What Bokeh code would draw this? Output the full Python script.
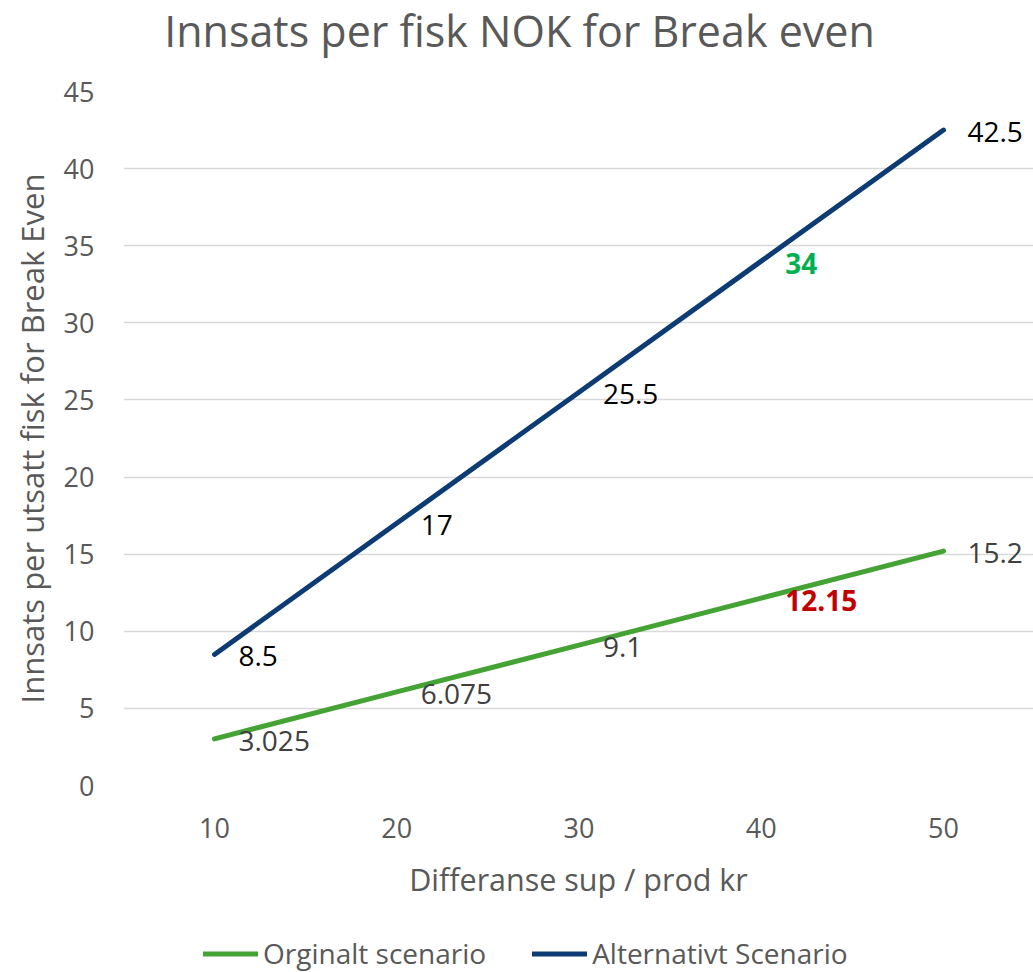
from bokeh.plotting import figure
from bokeh.layouts import column
from bokeh.models import Range1d, FixedTicker, ColumnDataSource, Legend, LegendItem, Label
from bokeh.core.properties import value
from bokeh.embed import file_html
from bokeh.resources import INLINE

# ---- data ----
x_values = [10, 20, 30, 40, 50]
orig_values = [3.025, 6.075, 9.1, 12.15, 15.2]
alt_values = [8.5, 17, 25.5, 34, 42.5]
orig_labels = ["3.025", "6.075", "9.1", "12.15", "15.2"]
alt_labels = ["8.5", "17", "25.5", "34", "42.5"]
orig_label_colors = ["#404040", "#404040", "#404040", "#C00000", "#404040"]
orig_label_styles = ["normal", "normal", "normal", "bold", "normal"]
alt_label_colors = ["#000000", "#000000", "#000000", "#00B050", "#000000"]
alt_label_styles = ["normal", "normal", "normal", "bold", "normal"]
y_ticks = [0, 5, 10, 15, 20, 25, 30, 35, 40, 45]
series_names = ["Orginalt scenario", "Alternativt Scenario"]
chart_title = "Innsats per fisk NOK for Break even"

FONT = "Open Sans"
GREY = "#595959"
GREEN = "#45A335"
BLUE = "#0C3C73"

W = 1033
TOP_H = 67
LEG_H = 44
MAIN_H = 972 - TOP_H - LEG_H

# ---- title strip ----
tf = figure(width=W, height=TOP_H, output_backend="svg", toolbar_location=None, title=None,
            x_range=Range1d(0, W - 123), y_range=Range1d(0, TOP_H),
            x_axis_type=None, y_axis_type=None,
            min_border_left=123, min_border_right=0, min_border_top=0, min_border_bottom=0)
tf.outline_line_color = None
tf.grid.visible = False
tf.add_layout(Label(x=396, y=TOP_H, text=chart_title, text_align="center", text_baseline="top",
                    text_font=FONT, text_font_size="43px", text_color=GREY))

# ---- main chart ----
p = figure(width=W, height=MAIN_H, output_backend="svg", toolbar_location=None, title=None,
           x_range=Range1d(5.007, 54.94), y_range=Range1d(0, 45),
           min_border_left=123, min_border_right=0, min_border_top=24, min_border_bottom=143)
p.outline_line_color = None
p.background_fill_color = "white"
p.border_fill_color = "white"

src_o = ColumnDataSource(dict(x=x_values, y=orig_values, t=orig_labels, c=orig_label_colors, s=orig_label_styles))
src_a = ColumnDataSource(dict(x=x_values, y=alt_values, t=alt_labels, c=alt_label_colors, s=alt_label_styles))

p.line("x", "y", source=src_o, line_color=GREEN, line_width=5, line_cap="round", line_join="round")
p.line("x", "y", source=src_a, line_color=BLUE, line_width=5, line_cap="round", line_join="round")

for src in (src_o, src_a):
    p.text("x", "y", text="t", source=src, text_color="c", text_font_style="s",
           text_font=value(FONT), text_font_size="28px", text_align="left",
           text_baseline="middle", x_offset=24, y_offset=2)

p.xgrid.grid_line_color = None
p.ygrid.grid_line_color = "#D9D9D9"
p.ygrid.grid_line_width = 1.5

p.yaxis.ticker = FixedTicker(ticks=y_ticks)
p.xaxis.ticker = FixedTicker(ticks=x_values)
for ax in (p.xaxis[0], p.yaxis[0]):
    ax.axis_line_color = None
    ax.major_tick_line_color = None
    ax.minor_tick_line_color = None
    ax.major_label_text_font = FONT
    ax.major_label_text_font_size = "27px"
    ax.major_label_text_color = GREY
    ax.axis_label_text_font = FONT
    ax.axis_label_text_font_style = "normal"
    ax.axis_label_text_color = GREY

p.yaxis.axis_label = "Innsats per utsatt fisk for Break Even"
p.yaxis.axis_label_text_font_size = "31px"
p.yaxis.major_label_standoff = 23
p.yaxis.axis_label_standoff = 8
p.xaxis.axis_label = "Differanse sup / prod kr"
p.xaxis.axis_label_text_font_size = "30.5px"
p.xaxis.major_label_standoff = 26
p.xaxis.axis_label_standoff = 17

# ---- legend strip below the chart ----
lf = figure(width=W, height=LEG_H, output_backend="svg", toolbar_location=None, title=None,
            x_range=Range1d(0, 1), y_range=Range1d(0, 1),
            x_axis_type=None, y_axis_type=None,
            min_border_left=123, min_border_right=0, min_border_top=0, min_border_bottom=0)
lf.outline_line_color = None
lf.grid.visible = False
lg_o = lf.line(x=[-5, -4], y=[-5, -5], line_color=GREEN, line_width=5, line_cap="round")
lg_a = lf.line(x=[-5, -4], y=[-5, -5], line_color=BLUE, line_width=5, line_cap="round")

legend = Legend(items=[LegendItem(label=series_names[0], renderers=[lg_o]),
                       LegendItem(label=series_names[1], renderers=[lg_a])],
                orientation="horizontal", location=(80, 0), padding=0, margin=0,
                spacing=46, glyph_width=55, glyph_height=27, label_standoff=5,
                border_line_color=None, background_fill_alpha=0,
                label_text_font=FONT, label_text_font_size="28px", label_text_color=GREY)
lf.add_layout(legend)

layout = column(tf, p, lf, spacing=0)
open("out.html", "w").write(file_html(layout, INLINE))
